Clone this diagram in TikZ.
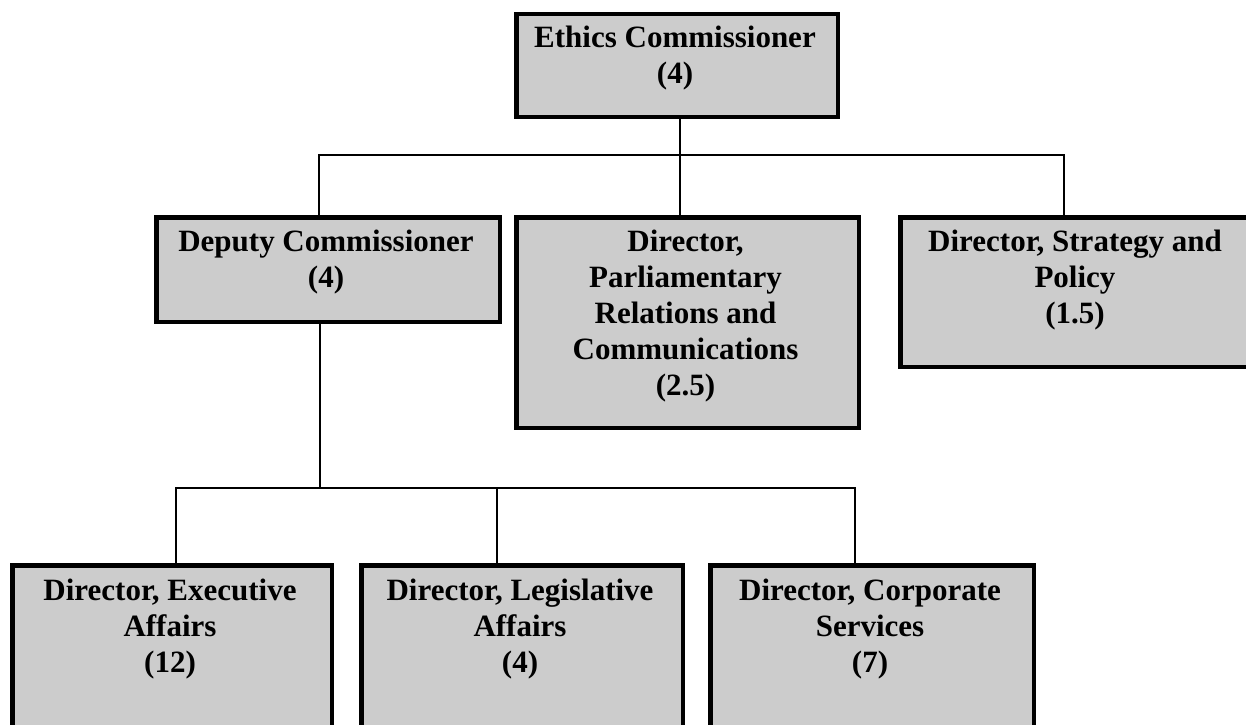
\documentclass[tikz,border=0pt]{standalone}
\usepackage{fontspec}
\setmainfont{Liberation Serif}
\definecolor{boxgray}{HTML}{CCCCCC}
\begin{document}
\begin{tikzpicture}[x=1pt,y=-1pt,
  box/.style={draw=black, line width=4.5pt, fill=boxgray, inner sep=0pt, anchor=north west},
  conn/.style={draw=black, line width=2.2pt},
  lbl/.style={anchor=base, inner sep=0pt, font=\bfseries\fontsize{31}{36}\selectfont}]
\useasboundingbox (0,0) rectangle (1246,724);
% boxes
\node[box, minimum width=321.5pt, minimum height=103pt] (top) at (514.25,11.75) {};
\node[box, minimum width=343.5pt, minimum height=104.5pt] (dep) at (154.25,215.25) {};
\node[box, minimum width=342.5pt, minimum height=210.5pt] (parl) at (514.25,215.25) {};
\node[box, minimum width=353.5pt, minimum height=149.5pt] (strat) at (898.25,215.25) {};
\node[box, minimum width=319.5pt, minimum height=200pt] (exec) at (10.25,563.25) {};
\node[box, minimum width=321.5pt, minimum height=200pt] (legis) at (359.25,563.25) {};
\node[box, minimum width=323.5pt, minimum height=200pt] (corp) at (708.25,563.25) {};
% texts
\node[lbl] (topt) at (675,47.5) {\parbox[t]{320pt}{\centering Ethics Commissioner\\(4)}};
\node[lbl] (dept) at (326,251) {\parbox[t]{340pt}{\centering Deputy Commissioner\\(4)}};
\node[lbl] (parlt) at (685.5,251) {\parbox[t]{340pt}{\centering Director,\\Parliamentary\\Relations and\\Communications\\(2.5)}};
\node[lbl] (stratt) at (1075,251) {\parbox[t]{350pt}{\centering Director, Strategy and\\Policy\\(1.5)}};
\node[lbl] (exect) at (170,600) {\parbox[t]{320pt}{\centering Director, Executive\\Affairs\\(12)}};
\node[lbl] (legist) at (520,600) {\parbox[t]{320pt}{\centering Director, Legislative\\Affairs\\(4)}};
\node[lbl] (corpt) at (870,600) {\parbox[t]{320pt}{\centering Director, Corporate\\Services\\(7)}};
% connectors
\coordinate (tbus) at (680,155);
\coordinate (bl) at (319,155);
\coordinate (br) at (1064,155);
\draw[conn] (tbus |- top.south) -- (tbus |- parl.north);
\draw[conn] (bl |- dep.north) -- (bl) -- (br) -- (br |- strat.north);
\coordinate (dv) at (320,488);
\coordinate (e1) at (176,488);
\coordinate (e2) at (497,488);
\coordinate (e3) at (855,488);
\draw[conn] (dv |- dep.south) -- (dv);
\draw[conn] (e1 |- exec.north) -- (e1) -- (e3) -- (e3 |- corp.north);
\draw[conn] (e2) -- (e2 |- legis.north);
\end{tikzpicture}
\end{document}
